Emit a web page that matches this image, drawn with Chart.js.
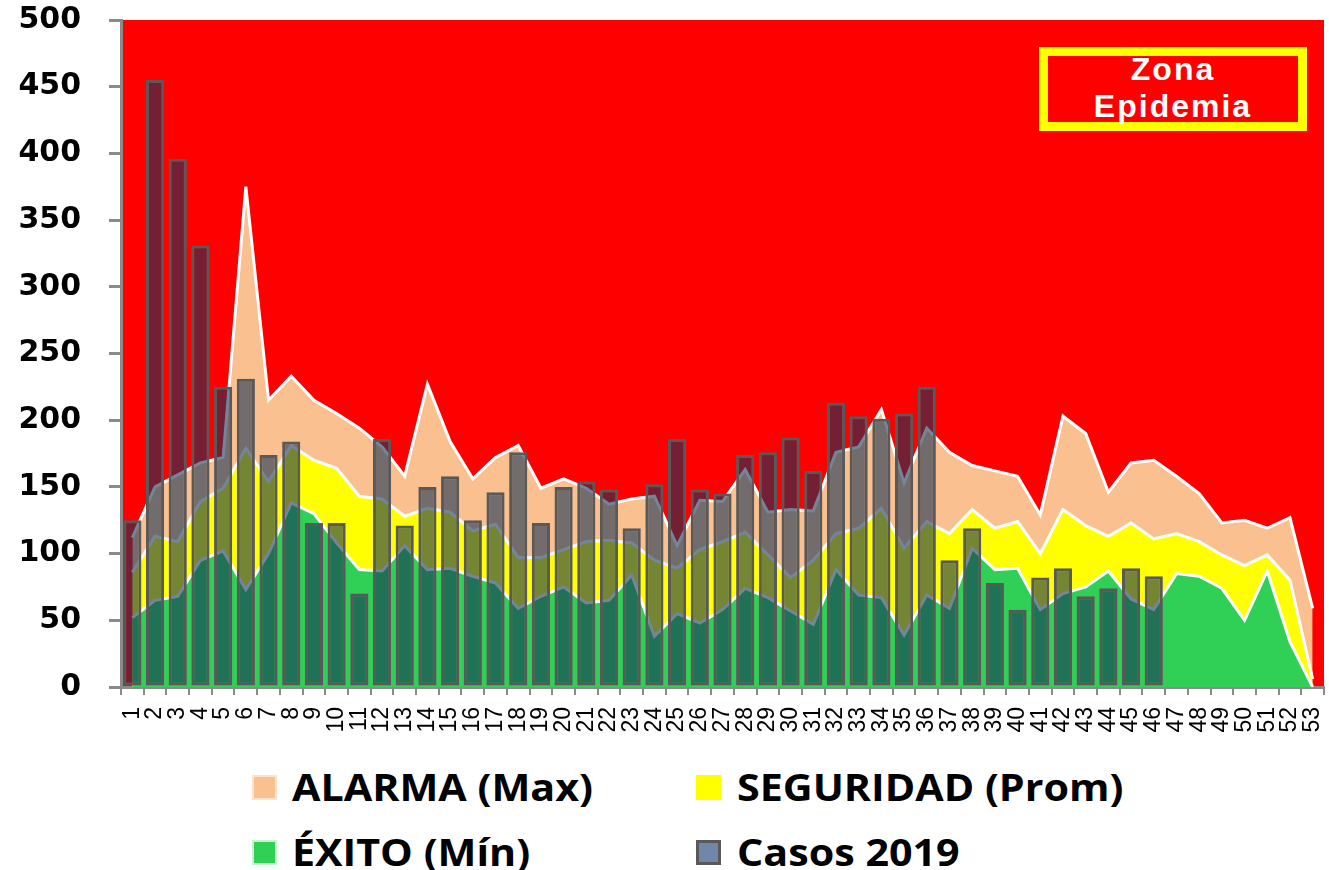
<!DOCTYPE html>
<html>
<head>
<meta charset="utf-8">
<script src="https://cdn.jsdelivr.net/npm/chart.js@4.4.0/dist/chart.umd.min.js"></script>
<style>
body { margin: 0; background: #fff; width: 1329px; height: 870px; overflow: hidden; position: relative; }
#wrap { position: absolute; left: 0; top: 0; width: 1329px; height: 745px; }
#zona { position: absolute; left: 1039px; top: 47px; width: 250px; height: 66px; border: 9px solid #ffff00; background: #ff0000; color: #fff; font: bold 32px 'Liberation Sans', Arial, sans-serif; text-align: center; line-height: 37px; letter-spacing: 2px; }
#zona div { margin-top: -5px; }
.leg { position: absolute; font-family: 'Open Sans', sans-serif; font-weight: 700; font-size: 38px; line-height: 50px; color: #000; white-space: nowrap; transform: scaleX(1.085); transform-origin: left center; }
.sw { position: absolute; width: 25px; height: 25px; box-sizing: border-box; }
</style>
</head>
<body>
<div id="wrap"><canvas id="chart"></canvas></div>
<div id="zona"><div>Zona<br>Epidemia</div></div>

<div class="sw" style="left:252px;top:775px;background:#fac090;border:2px solid #fde3cc"></div>
<div class="leg" style="left:292px;top:761px">ALARMA (Max)</div>
<div class="sw" style="left:696px;top:775px;background:#ffff00"></div>
<div class="leg" style="left:737px;top:761px">SEGURIDAD (Prom)</div>
<div class="sw" style="left:252px;top:840px;background:#2fd055;border:2px solid #c9f2d3"></div>
<div class="leg" style="left:292px;top:826px">ÉXITO (Mín)</div>
<div class="sw" style="left:696px;top:840px;background:#7088a8;border:3px solid #595959"></div>
<div class="leg" style="left:737px;top:826px">Casos 2019</div>

<script>
// semanas epidemiologicas
const weeks = ['1','2','3','4','5','6','7','8','9','10','11','12','13','14','15','16','17','18','19','20',
    '21','22','23','24','25','26','27','28','29','30','31','32','33','34','35','36','37','38','39','40',
    '41','42','43','44','45','46','47','48','49','50','51','52','53'];

// canal endemico
const alarma = [112,150,159,168,172,375,215,233,215,205,194,180,158,
    227,184,156,172,181,149,156,149,137,141,143,106,140,139,
    163,131,133,132,176,180,208,153,194,176,166,162,158,
    129,203,190,146,168,170,158,145,123,125,119,127,59];
const seguridad = [86,113,109,139,149,179,154,181,170,164,143,141,128,
    134,131,117,122,97,97,103,109,110,108,95,89,103,
    109,116,99,82,95,115,119,134,104,124,115,133,119,124,
    100,133,121,113,123,111,115,109,99,91,99,80,6];
const exito = [52,65,68,95,102,73,100,138,130,108,88,87,106,
    88,89,83,78,59,68,75,63,65,84,38,55,48,
    58,74,67,57,47,88,69,67,39,69,59,104,88,89,
    58,70,75,87,66,58,85,83,74,50,87,34,0];

// casos notificados 2019 (hasta semana 46)
const casos2019 = [125,455,396,331,225,231,174,184,123,123,70,186,121,150,158,125,146,176,123,150,
    154,148,119,152,186,148,145,174,176,187,162,213,203,201,205,225,95,119,78,58,
    82,89,68,74,89,83];

const yTicks = [0, 50, 100, 150, 200, 250, 300, 350, 400, 450, 500];

// fondo rojo = zona epidemia
const zonaEpidemia = {
    id: 'zonaEpidemia',
    beforeDraw(chart) {
        const a = chart.chartArea;
        const ctx = chart.ctx;
        ctx.save();
        ctx.fillStyle = '#ff0000';
        ctx.fillRect(a.left, a.top, a.right - a.left, a.bottom - a.top);
        ctx.restore();
    }
};

function area(label, data, color, order) {
    return {
        type: 'line', label: label, data: data,
        backgroundColor: color, borderColor: '#ffffff', borderWidth: 3,
        fill: 'origin', pointRadius: 0, tension: 0, order: order
    };
}

new Chart(document.getElementById('chart'), {
    type: 'bar',
    data: {
        labels: weeks,
        datasets: [
            area('ALARMA (Max)', alarma, '#fac090', 3),
            area('SEGURIDAD (Prom)', seguridad, '#ffff00', 2),
            area('ÉXITO (Mín)', exito, '#2fd055', 1),
            {
                type: 'bar', label: 'Casos 2019', data: casos2019,
                backgroundColor: 'rgba(23,51,86,0.6)', borderColor: '#595959', borderWidth: 3,
                borderSkipped: false, categoryPercentage: 1, barPercentage: 0.8, order: 0
            }
        ]
    },
    options: {
        responsive: true,
        maintainAspectRatio: false,
        animation: false,
        layout: { padding: { top: 20, right: 5, left: 0, bottom: 0 } },
        plugins: { legend: { display: false }, tooltip: { enabled: false } },
        scales: {
            x: {
                offset: true,
                grid: { offset: true, drawOnChartArea: false, drawTicks: true, tickLength: 8, color: '#8a8a8a', lineWidth: 2 },
                border: { display: true, color: '#8a8a8a', width: 3 },
                ticks: {
                    autoSkip: false, minRotation: 90, maxRotation: 90, padding: 12,
                    color: '#000', font: { family: "'Liberation Sans', Arial, sans-serif", size: 23 }
                },
                afterFit(s) { s.height = 58; s.paddingLeft = 0; s.paddingRight = 0; }
            },
            y: {
                min: 0, max: 500,
                afterBuildTicks(s) { s.ticks = yTicks.map(v => ({ value: v })); },
                grid: { drawOnChartArea: false, drawTicks: true, tickLength: 12, color: '#8a8a8a', lineWidth: 3 },
                border: { display: true, color: '#8a8a8a', width: 3 },
                ticks: {
                    padding: 28, color: '#000',
                    font: { family: "'DejaVu Sans', Verdana, sans-serif", size: 30, weight: 'bold' }
                },
                afterFit(s) { s.width = 121; s.paddingTop = 0; s.paddingBottom = 0; }
            }
        }
    },
    plugins: [zonaEpidemia]
});
</script>
</body>
</html>
